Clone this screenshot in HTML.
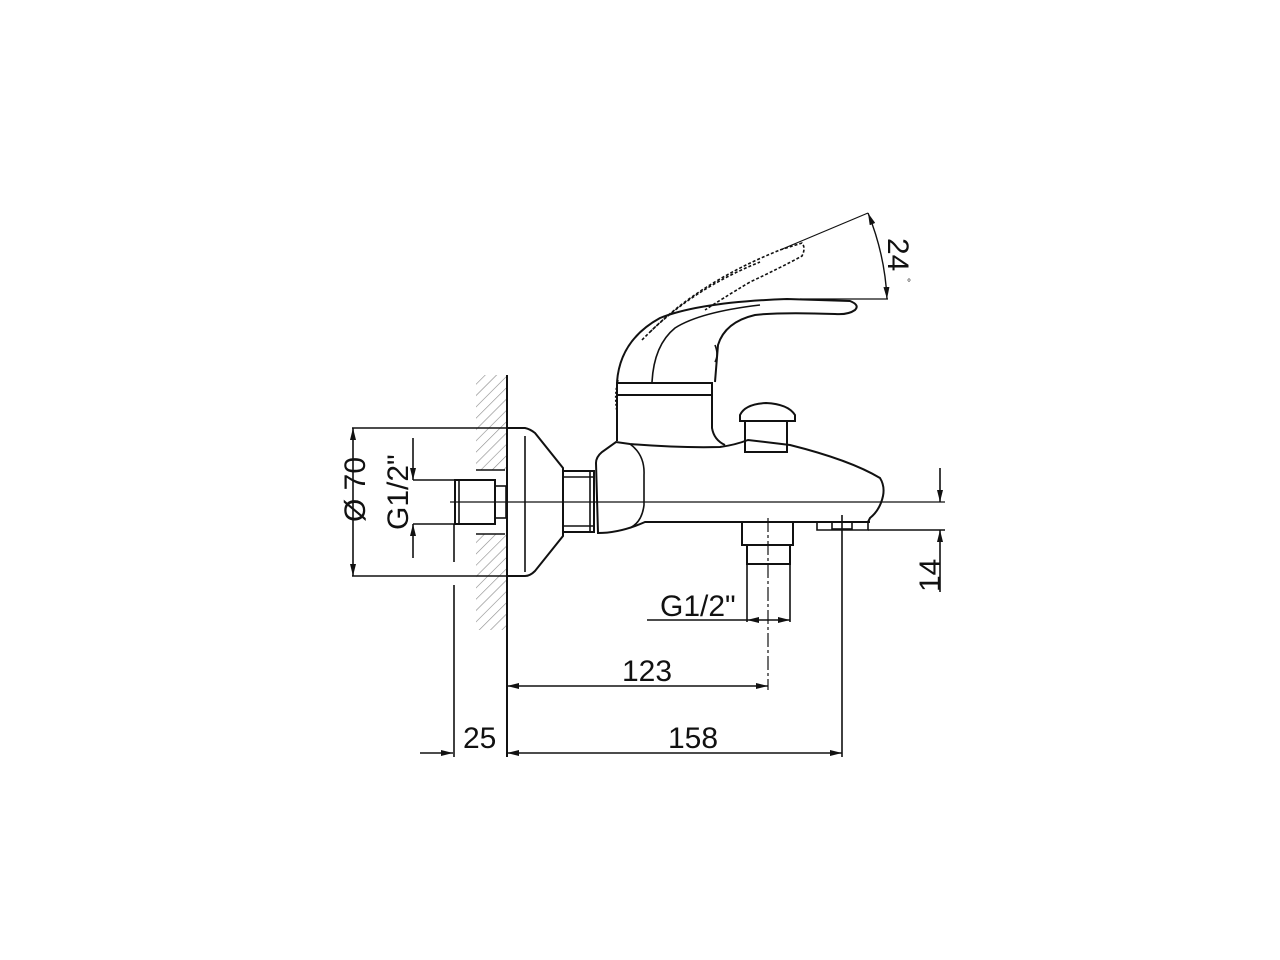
<!DOCTYPE html>
<html><head><meta charset="utf-8"><style>
html,body{margin:0;padding:0;background:#fff}
svg{display:block}
text{font-family:"Liberation Sans",Arial,sans-serif;fill:#111}
</style></head><body>
<svg width="1280" height="960" viewBox="0 0 1280 960" xmlns="http://www.w3.org/2000/svg">
<defs>
<pattern id="h" width="8" height="8" patternUnits="userSpaceOnUse" patternTransform="rotate(45)">
<line x1="0" y1="0" x2="0" y2="8" stroke="#888" stroke-width="1.2"/>
</pattern>
<marker id="a" viewBox="0 0 12 6" refX="12" refY="3" markerWidth="12" markerHeight="6" orient="auto-start-reverse" markerUnits="userSpaceOnUse">
<path d="M0,0 L12,3 L0,6 z" fill="#111"/>
</marker>
</defs>
<g stroke="#111" fill="none" stroke-width="1.6">
<!-- wall -->
<rect x="476" y="375" width="30" height="95" fill="url(#h)" stroke="none"/>
<rect x="476" y="534" width="30" height="96" fill="url(#h)" stroke="none"/>
<line x1="507" y1="375" x2="507" y2="757" stroke-width="2"/>
<line x1="476" y1="470" x2="505" y2="470"/>
<line x1="476" y1="534" x2="505" y2="534"/>
<!-- Ø70 -->
<line x1="352" y1="428" x2="525" y2="428"/>
<line x1="352" y1="576" x2="525" y2="576"/>
<line x1="353" y1="428" x2="353" y2="576" marker-start="url(#a)" marker-end="url(#a)"/>
<!-- G1/2 left -->
<line x1="413" y1="438" x2="413" y2="480" marker-end="url(#a)"/>
<line x1="413" y1="558" x2="413" y2="524" marker-end="url(#a)"/>
<line x1="413" y1="480" x2="455" y2="480"/>
<line x1="413" y1="524" x2="455" y2="524"/>
<rect x="455" y="480" width="40" height="44" stroke-width="2"/>
<line x1="459" y1="481" x2="459" y2="523"/>
<rect x="495" y="486" width="11" height="32"/>
<line x1="454" y1="524" x2="454" y2="562"/>
<line x1="454" y1="585" x2="454" y2="757"/>
<!-- centerline -->
<line x1="450" y1="502" x2="945" y2="502" stroke-width="1.2"/>
<!-- escutcheon -->
<path d="M507,428 L525,428 Q530,429 535,433 L563,468 L563,536 L535,571 Q530,576 525,576 L507,576" stroke-width="2"/>
<line x1="525" y1="436" x2="525" y2="572"/>
<!-- nut -->
<rect x="563" y="471" width="31" height="61" stroke-width="2"/>
<line x1="563" y1="477" x2="594" y2="477"/><line x1="563" y1="526" x2="594" y2="526"/>
<line x1="590" y1="471" x2="590" y2="532"/>
<!-- body -->
<path d="M596,463 Q596,457 602,452 L616,442 L630,444 Q680,448 720,447 Q735,445 748,440 L790,445 Q850,460 880,478 Q885,486 883,496 Q880,510 870,518 L868,522 L645,522 Q620,533 598,533 Z" stroke-width="2"/>
<path d="M630,444 Q645,455 644,475 L644,505 Q642,522 630,528" />
<line x1="645" y1="522" x2="870" y2="522" stroke-width="2"/>
<!-- cylinder -->
<path d="M617,441 L617,395 L712,395 L712,428 Q714,440 725,445" stroke-width="2"/>
<path d="M617,395 L617,383 L712,383 L712,395" stroke-width="2"/>
<path d="M618,380 Q614,395 617,412" stroke-dasharray="2,2"/>
<!-- knob -->
<rect x="745" y="421" width="42" height="31" stroke-width="2"/>
<path d="M740,421 L740,415 Q745,404 766,403 Q788,404 795,415 L795,421 Z" stroke-width="2"/>
<!-- lever -->
<path d="M617,382 Q620,340 660,318 Q700,302 787,299 L850,301 Q860,305 855,310 Q848,315 835,314 Q780,312 755,315 Q725,322 718,345 L715,382" stroke-width="2"/>
<path d="M652,382 Q654,345 675,328 Q700,312 760,305"/>
<path d="M715,345 Q719,355 715,362"/>
<path d="M650,332 Q700,282 780,250 L802,243 Q806,248 802,256 Q780,268 750,282 Q720,300 705,310" stroke-dasharray="3,2"/>
<path d="M642,340 Q690,290 760,262" stroke-dasharray="3,2"/>
<!-- 24 deg -->
<line x1="780" y1="250" x2="868" y2="213" stroke-width="1.2"/>
<line x1="800" y1="299" x2="888" y2="299" stroke-width="1.2"/>
<path d="M868,213 Q885,255 887,299" stroke-width="1.4" marker-start="url(#a)" marker-end="url(#a)"/>
<!-- bottom outlet -->
<rect x="742" y="522" width="51" height="23" stroke-width="2"/>
<rect x="747" y="545" width="43" height="19" stroke-width="2"/>
<line x1="747" y1="564" x2="747" y2="622"/>
<line x1="790" y1="564" x2="790" y2="622"/>
<line x1="768" y1="518" x2="768" y2="690" stroke-dasharray="14,3,3,3" stroke-width="1.2"/>
<!-- aerator -->
<path d="M817,530 L817,522 L868,522 L868,530 Z"/>
<rect x="832" y="522" width="20" height="7"/>
<line x1="842" y1="515" x2="842" y2="757"/>
<!-- 14 -->
<line x1="868" y1="530" x2="945" y2="530"/>
<line x1="940" y1="468" x2="940" y2="502" marker-end="url(#a)"/>
<line x1="940" y1="592" x2="940" y2="530" marker-end="url(#a)"/>
<!-- G1/2 bottom -->
<line x1="647" y1="620" x2="747" y2="620"/>
<line x1="768" y1="620" x2="747" y2="620" marker-end="url(#a)"/>
<line x1="768" y1="620" x2="790" y2="620" marker-end="url(#a)"/>
<!-- 123 -->
<line x1="507" y1="686" x2="768" y2="686" marker-start="url(#a)" marker-end="url(#a)"/>
<!-- 158 -->
<line x1="507" y1="753" x2="842" y2="753" marker-start="url(#a)" marker-end="url(#a)"/>
<!-- 25 -->
<line x1="420" y1="753" x2="453" y2="753" marker-end="url(#a)"/>
</g>
<text x="0" y="0" font-size="30" transform="translate(365,522) rotate(-90)">Ø 70</text>
<text x="0" y="0" font-size="30" transform="translate(408,530) rotate(-90)">G1/2"</text>
<text x="660" y="616" font-size="30">G1/2"</text>
<text x="622" y="681" font-size="30">123</text>
<text x="668" y="748" font-size="30">158</text>
<text x="463" y="748" font-size="30">25</text>
<text x="0" y="0" font-size="30" transform="translate(940,592) rotate(-90)">14</text>
<text x="0" y="0" font-size="30" transform="translate(888,238) rotate(90)">24</text>
<text x="907" y="286" font-size="10">°</text>
</svg>
</body></html>
